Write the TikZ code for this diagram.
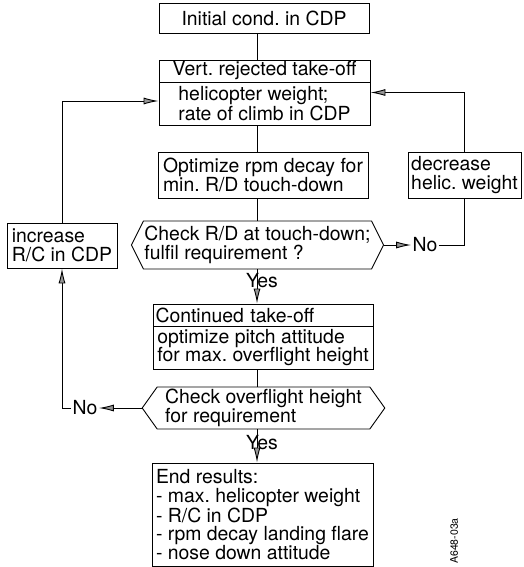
\documentclass[tikz,border=0pt]{standalone}
\usepackage{fontspec}
\setmainfont{TeX Gyre Heros}
\usepackage{tikz}
\usetikzlibrary{arrows.meta, positioning,
    shapes.symbols, calc}
\definecolor{tipgray}{RGB}{150,150,150}
\newcommand{\chartfont}{\frenchspacing\fontsize{19.4}{18.5}\selectfont}

\begin{document}
\begin{tikzpicture}[
    x=1pt, y=-1pt,
    line width=0.9pt,
    box/.style={
        draw, line width=0.9pt,
        inner xsep=2.5pt, inner ysep=0pt,
        align=left, font=\chartfont
    },
    hexbox/.style={
        box, signal, signal to=east and west
    },
    arr/.style={-{Latex[length=15pt, width=7pt,
        fill=tipgray]}},
    lbl/.style={inner sep=1pt, font=\chartfont}
]
\useasboundingbox (0,0) rectangle (523,567);
\coordinate (spine) at (257,0);

% main column
\node[box, align=center, minimum width=210pt,
    minimum height=30pt] (init) at (264,18) {Initial cond. in CDP};
\node[box, align=center, minimum width=211pt,
    minimum height=22pt] (vert) at (264.5,71) {Vert. rejected take-off};
\node[box, minimum width=211pt,
    minimum height=43pt] (weight) at (264.5,103.5)
    {helicopter weight;\\rate of climb in CDP};
\node[box, minimum width=210pt,
    minimum height=46pt] (rpm) at (263,175)
    {Optimize rpm decay for\\min. R/D touch-down};
\node[hexbox, inner xsep=1pt,
    signal pointer angle=127,
    minimum height=48pt] (chkrd) at (257.5,245)
    {Check R/D at touch-down;\\fulfil requirement ?};
\node[box, text width=215pt,
    minimum height=22pt] (cont) at (263,315) {Continued take-off};
\node[box, minimum width=220pt,
    minimum height=43pt] (pitch) at (263,347.5)
    {optimize pitch attitude\\for max. overflight height};
\node[hexbox, inner xsep=8pt,
    signal pointer angle=109,
    minimum height=42pt] (chkof) at (263.5,408)
    {Check overflight height\\for requirement};
\node[box, minimum width=221pt,
    minimum height=103pt] (endres) at (262.5,514.5)
    {End results:\\- max. helicopter weight\\- R/C in CDP\\%
     - rpm decay landing flare\\- nose down attitude};

% side boxes
\node[box, minimum width=113pt,
    minimum height=46pt] (dec) at (464.5,175) {decrease\\helic. weight};
\node[box, minimum width=110pt,
    minimum height=45pt] (inc) at (62,245.5) {increase\\R/C in CDP};
\node[lbl] (no1) at (425,245) {No};
\node[lbl] (no2) at (85,408) {No};

\node[rotate=90, inner sep=0pt,
    font=\fontsize{10.5}{12}\selectfont] (code) at (454,541) {A648-03a};

\draw (init.south -| spine) -- (vert.north -| spine);
\draw (weight.south -| spine) -- (rpm.north -| spine);
\draw (rpm.south -| spine) -- (chkrd.north -| spine);
\draw[arr] (chkrd.south -| spine) -- node[lbl, pos=0.33,
    xshift=5pt]{Yes} (cont.north -| spine);
\draw (pitch.south -| spine) -- (chkof.north -| spine);
\draw[arr] (chkof.south -| spine) -- node[lbl, pos=0.4,
    xshift=5pt]{Yes} (endres.north -| spine);

% loops
\draw[arr] (chkrd.east) -- (no1.west);
\draw (no1.east) -| (dec.south);
\draw[arr] (dec.north) |- ([yshift=11pt]weight.east);
\draw[arr] (chkof.west) -- (no2.east);
\draw[arr] (no2.west) -| (inc.south);
\draw[arr] (inc.north) |- ([yshift=2.5pt]weight.west);
\end{tikzpicture}
\end{document}
